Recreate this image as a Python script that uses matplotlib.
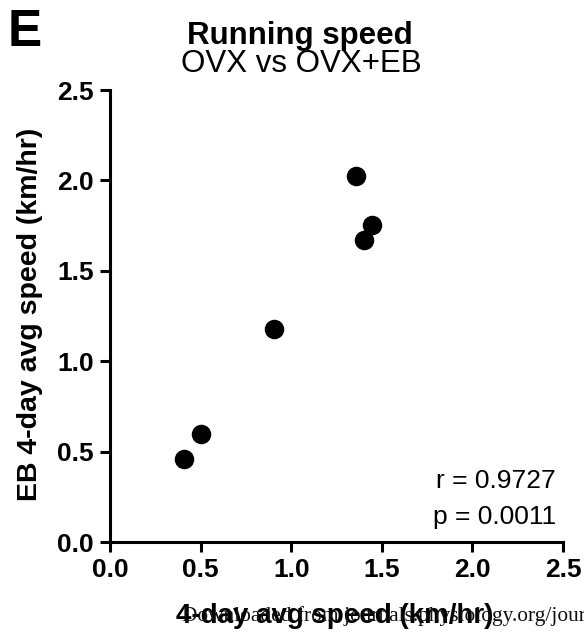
import matplotlib
matplotlib.use("Agg")
import matplotlib.pyplot as plt

plt.rcParams['font.family'] = ['Liberation Sans', 'DejaVu Sans']

ovx_speed = [1.357, 1.448, 1.403, 0.907, 0.501, 0.409]
eb_speed = [2.024, 1.751, 1.669, 1.177, 0.597, 0.459]
ticks = [0.0, 0.5, 1.0, 1.5, 2.0, 2.5]
tick_labels = ["0.0", "0.5", "1.0", "1.5", "2.0", "2.5"]

fig = plt.figure(figsize=(5.84, 6.32), dpi=100)
ax = fig.add_axes([110/584, 1-542/632, (563-110)/584, (542-90)/632])
ax.scatter(ovx_speed, eb_speed, s=170, color='black', zorder=3, clip_on=False)
ax.set_xlim(0, 2.5)
ax.set_ylim(0, 2.5)
ax.set_xticks(ticks)
ax.set_yticks(ticks)
ax.set_xticklabels(tick_labels, fontsize=19, fontweight='bold')
ax.set_yticklabels(tick_labels, fontsize=19, fontweight='bold')
for s in ['top', 'right']:
    ax.spines[s].set_visible(False)
for s in ['left', 'bottom']:
    ax.spines[s].set_linewidth(2.2)
ax.tick_params(direction='out', length=7.5, width=2.2, pad=4)

ax.text(0.985, 0.135, "r = 0.9727", transform=ax.transAxes, ha='right', va='center', fontsize=19)
ax.text(0.985, 0.056, "p = 0.0011", transform=ax.transAxes, ha='right', va='center', fontsize=19)

fig.text(300/584, 1-36/632, "Running speed", ha='center', va='center', fontsize=22.5, fontweight='bold')
fig.text(301/584, 1-64/632, "OVX vs OVX+EB", ha='center', va='center', fontsize=22.5)
fig.text(8/584, 1-32/632, "E", ha='left', va='center', fontsize=37, fontweight='bold')
fig.text(30/584, 1-314/632, "EB 4-day avg speed (km/hr)", rotation=90, ha='center', va='center', fontsize=20.5, fontweight='bold')
fig.text(335/584, 1-616/632, "4-day avg speed (km/hr)", ha='center', va='center', fontsize=20, fontweight='bold')
fig.text(182/584, 1-616/632, "Downloaded from journals.physiology.org/journal/ajpendo", ha='left', va='center', fontsize=15.4, family=['Liberation Serif', 'DejaVu Serif'], color='#111111')

fig.savefig("out.png", dpi=100)
